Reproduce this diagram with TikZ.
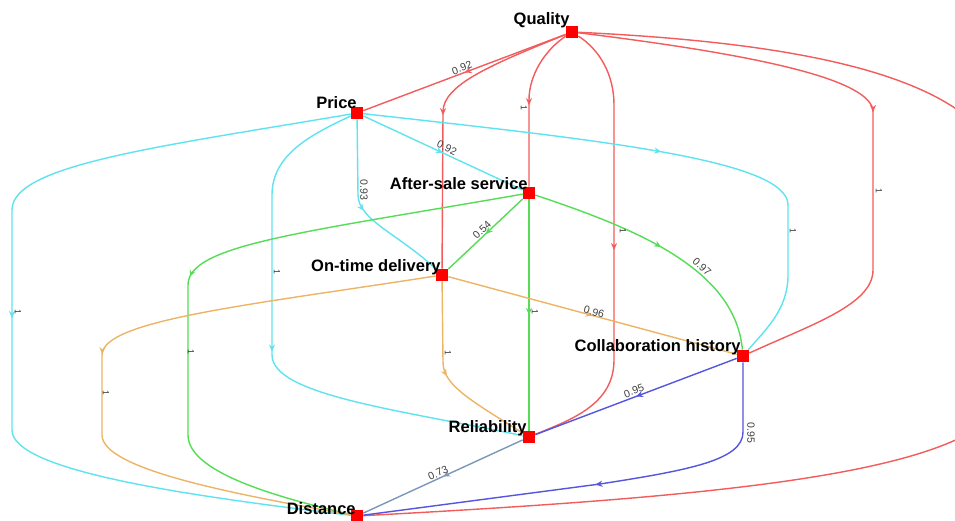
\documentclass[tikz,border=0pt]{standalone}
\usepackage{fontspec}
\setmainfont{Liberation Sans}
\usetikzlibrary{arrows.meta,decorations.markings}
\pgfdeclarelayer{background}
\pgfsetlayers{background,main}
\definecolor{cred}{HTML}{F25C5C}
\definecolor{ccyan}{HTML}{5FE3EE}
\definecolor{cgreen}{HTML}{55DD55}
\definecolor{corange}{HTML}{EDB466}
\definecolor{cblue}{HTML}{5555DD}
\definecolor{csteel}{HTML}{7A98B8}
\begin{document}
\begin{tikzpicture}[x=0.02cm,y=-0.02cm,
  vert/.style={fill=red,draw=none,inner sep=0pt,minimum size=0.24cm},
  lab/.style={font=\bfseries\fontsize{9.4}{10}\selectfont,anchor=east,inner sep=0pt},
  wt/.style={font=\fontsize{6}{7}\selectfont,text=black!75,inner sep=0pt},
  one/.style={font=\fontsize{5}{6}\selectfont,text=black!80,inner sep=0pt,rotate=-90},
  link/.style={line width=0.8pt,postaction={decorate},
    decoration={markings,mark=at position 0.5 with {\arrow{Stealth[length=4pt,width=3.5pt]}}}},
  plain/.style={line width=0.8pt}]
\useasboundingbox (0,0) rectangle (955,520);
% vertices
\node[vert] (Q) at (572,32) {};
\node[vert] (P) at (357,113) {};
\node[vert] (A) at (529,193) {};
\node[vert] (O) at (442,275) {};
\node[vert] (C) at (743,356) {};
\node[vert] (R) at (529,437) {};
\node[vert] (D) at (357,516) {};
% vertex labels
\node[lab] (Ql) at (570,20) {Quality};
\node[lab] (Pl) at (357,103) {Price};
\node[lab] (Al) at (528,184) {After-sale service};
\node[lab] (Ol) at (441,267) {On-time delivery};
\node[lab] (Cl) at (741,347) {Collaboration history};
\node[lab] (Rl) at (527,428) {Reliability};
\node[lab] (Dl) at (356,509) {Distance};
\begin{pgfonlayer}{background}
% red: from Quality
\draw[link,cred] (Q) -- (P);
\draw[link,cred] (Q) .. controls (545,50) and (529,75) .. (529,100) -- (A);
\draw[link,cred] (Q) .. controls (490,65) and (443,85) .. (443,112) -- (O);
\draw[link,cred] (Q) .. controls (600,50) and (614,75) .. (614,105) -- (614,360) .. controls (614,405) and (570,420) .. (R);
\draw[link,cred] (Q) .. controls (760,55) and (873,80) .. (873,112) -- (873,270) .. controls (873,305) and (810,325) .. (C);
\begin{scope}
\clip (0,0) rectangle (955,520);
\draw[plain,cred] (Q) .. controls (850,45) and (1010,90) .. (1010,200) -- (1010,380) .. controls (1010,470) and (750,495) .. (D);
\end{scope}
% cyan: from Price
\draw[link,ccyan] (P) -- (A);
\draw[link,ccyan] (P) -- (358,195) .. controls (358,220) and (400,235) .. (O);
\draw[link,ccyan] (P) .. controls (310,135) and (272,155) .. (272,195) -- (272,355) .. controls (272,395) and (400,410) .. (R);
\draw[link,ccyan] (P) .. controls (600,140) and (788,160) .. (788,205) -- (788,275) .. controls (788,310) and (765,330) .. (C);
\draw[link,ccyan] (P) .. controls (157,147) and (12,165) .. (12,210) -- (12,430) .. controls (12,470) and (180,495) .. (D);
% green: from After-sale service
\draw[link,cgreen] (A) -- (O);
\draw[link,cgreen] (A) -- (R);
\draw[link,cgreen] (A) .. controls (640,230) and (735,270) .. (C);
\draw[link,cgreen] (A) .. controls (300,233) and (188,245) .. (188,285) -- (188,435) .. controls (188,475) and (290,500) .. (D);
% orange: from On-time delivery
\draw[link,corange] (O) -- (C);
\draw[link,corange] (O) -- (443,362) .. controls (443,385) and (470,400) .. (R);
\draw[link,corange] (O) .. controls (250,305) and (102,320) .. (102,355) -- (102,435) .. controls (102,470) and (240,495) .. (D);
% blue: from Collaboration history
\draw[link,cblue] (C) -- (R);
\draw[link,cblue] (C) -- (743,432) .. controls (743,460) and (690,470) .. (600,484) -- (D);
% steel: Reliability to Distance
\draw[link,csteel] (R) -- (D);
\end{pgfonlayer}
% weights
\node[wt,rotate=20.6] (w1) at (462,68) {0.92};
\node[wt,rotate=-25] (w2) at (447,148) {0.92};
\node[wt,rotate=-90] (w3) at (364,190) {0.93};
\node[wt,rotate=43] (w4) at (482,230) {0.54};
\node[wt,rotate=-15] (w5) at (594,312) {0.96};
\node[wt,rotate=-42] (w6) at (702,267) {0.97};
\node[wt,rotate=20.7] (w7) at (634,391) {0.95};
\node[wt,rotate=-90] (w8) at (751,433) {0.95};
\node[wt,rotate=24.7] (w9) at (438,473) {0.73};
\node[one] (o1) at (524,108) {1};
\node[one] (o2) at (623,231) {1};
\node[one] (o3) at (879,191) {1};
\node[one] (o4) at (793,231) {1};
\node[one] (o5) at (277,272) {1};
\node[one] (o6) at (18,312) {1};
\node[one] (o7) at (106,393) {1};
\node[one] (o8) at (191,352) {1};
\node[one] (o9) at (535,312) {1};
\node[one] (o10) at (448,353) {1};
\end{tikzpicture}
\end{document}
